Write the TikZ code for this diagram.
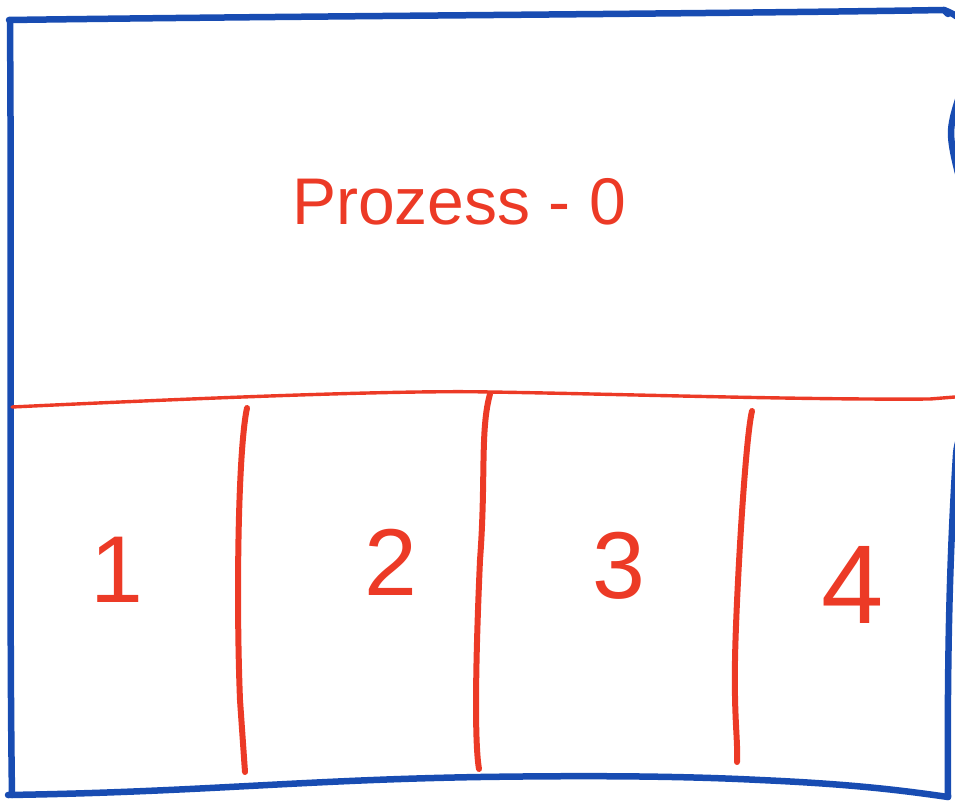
\documentclass[tikz,border=0pt]{standalone}
\usepackage{fontspec}
\setmainfont{Liberation Sans}
\definecolor{inkblue}{RGB}{24,76,178}
\definecolor{inkred}{RGB}{236,58,38}
\begin{document}
\begin{tikzpicture}[x=1pt,y=-1pt,
  frame/.style={draw=inkblue,line width=6.5pt,line cap=round,line join=round},
  divider/.style={draw=inkred,line width=6pt,line cap=round},
  band/.style={draw=inkred,line width=3.4pt,line cap=round},
  title/.style={text=inkred,font=\fontsize{66}{66}\selectfont},
  digit/.style={text=inkred,font=\fontsize{95}{95}\selectfont}]
  \useasboundingbox (0,0) rectangle (955,802);
  \clip (0,0) rectangle (955,802);

  % corners of the outer frame
  \coordinate (tl) at (10,22);
  \coordinate (tr) at (944,10);
  \coordinate (bl) at (12,795);
  \coordinate (br) at (948,797);

  % outer frame, drawn by hand
  \draw[frame] (9,20) .. controls (300,16) and (700,14) .. (tr) -- (948,14);
  \draw[frame] (tl) .. controls (12,300) and (9,600) .. (bl);
  \draw[frame] (8,795) .. controls (200,792) and (300,780) .. (480,777)
     .. controls (620,775) and (700,777) .. (760,780)
     .. controls (850,784) and (900,790) .. (br);
  \draw[frame] (tr) .. controls (1000,30) and (951,95) .. (951,133)
     .. controls (951,170) and (990,260) .. (990,330)
     .. controls (990,400) and (958,420) .. (956,455)
     .. controls (950,550) and (947,650) .. (br);

  % horizontal band between the process and its parts
  \coordinate (hl) at (12,407);
  \coordinate (hr) at (955,397);
  \draw[band] (hl) .. controls (200,398) and (400,390) .. (490,392)
     .. controls (620,394) and (800,400) .. (930,399) -- (hr);

  % column dividers
  \coordinate (d1t) at (247,408); \coordinate (d1b) at (245,772);
  \coordinate (d2t) at (490,394); \coordinate (d2b) at (479,769);
  \coordinate (d3t) at (752,411); \coordinate (d3b) at (737,762);
  \draw[divider] (d1t) .. controls (238,450) and (236,600) .. (240,700) -- (d1b);
  \draw[divider] (d2t) .. controls (480,430) and (486,480) .. (480,560)
     .. controls (476,650) and (474,740) .. (d2b);
  \draw[divider] (d3t) .. controls (745,440) and (736,600) .. (735,660)
     .. controls (734,720) and (738,740) .. (d3b);

  % labels
  \node[title] (proc) at (459,202) {Prozess - 0};
  \node[digit] (c1) at (117,570) {1};
  \node[digit] (c2) at (391,562) {2};
  \node[digit] (c3) at (619,566) {3};
  \node[digit,font=\fontsize{112}{112}\selectfont] (c4) at (853,585) {4};
\end{tikzpicture}
\end{document}
